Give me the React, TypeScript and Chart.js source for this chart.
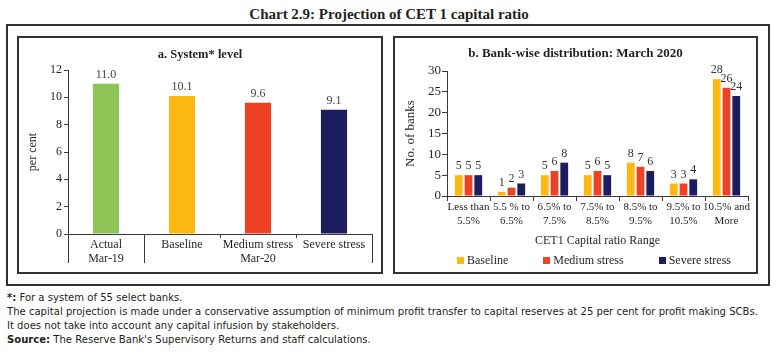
import React, { useEffect, useRef } from "react";
import { Chart, registerables } from "chart.js";

Chart.register(...registerables);

// ---------- data ----------
const systemCategories = ["Actual", "Baseline", "Medium stress", "Severe stress"];
const systemPeriods = ["Mar-19", "Mar-20"];
const systemPeriodSizes = [1, 3];
const systemValues = [11.0, 10.1, 9.6, 9.1];
const systemMax = 12;
const systemStep = 2;

const rangeCategories = [
  ["Less than", "5.5%"],
  ["5.5 % to", "6.5%"],
  ["6.5% to", "7.5%"],
  ["7.5% to", "8.5%"],
  ["8.5% to", "9.5%"],
  ["9.5% to", "10.5%"],
  ["10.5% and", "More"],
];
const seriesNames = ["Baseline", "Medium stress", "Severe stress"];
const baselineCounts = [5, 1, 5, 5, 8, 3, 28];
const mediumCounts = [5, 2, 6, 6, 7, 3, 26];
const severeCounts = [5, 3, 8, 5, 6, 4, 24];
const rangeMax = 30;
const rangeStep = 5;

// ---------- styles ----------
const GREEN = "#8CC455";
const YELLOW = "#FDB913";
const RED = "#EF4123";
const NAVY = "#1C1D5E";
const TEXT = "#231F20";
const AXIS = "#3a3a3a";
const SERIF = "'Liberation Serif', 'Times New Roman', serif";
const NARROW = "'DejaVu Sans Condensed', 'Liberation Sans Narrow', sans-serif";

const valueLabelPlugin = (fmt: (v: number) => string, color: string, size: number) => ({
  id: "valueLabels",
  afterDatasetsDraw(chart: any) {
    const ctx = chart.ctx;
    ctx.save();
    ctx.font = `${size}px ${SERIF}`;
    ctx.fillStyle = color;
    ctx.textAlign = "center";
    ctx.textBaseline = "bottom";
    chart.data.datasets.forEach((ds: any, di: number) => {
      const meta = chart.getDatasetMeta(di);
      meta.data.forEach((el: any, i: number) => {
        ctx.fillText(fmt(ds.data[i]), el.x, el.y - 3);
      });
    });
    ctx.restore();
  },
});

const periodGroupPlugin = {
  id: "periodGroups",
  afterDraw(chart: any) {
    const x = chart.scales.x;
    const n = chart.data.labels.length;
    const w = (x.right - x.left) / n;
    const bottom = chart.chartArea.bottom;
    const ctx = chart.ctx;
    ctx.save();
    ctx.strokeStyle = AXIS;
    ctx.lineWidth = 1;
    let start = 0;
    const bounds = [0];
    systemPeriodSizes.forEach((s) => {
      start += s;
      bounds.push(start);
    });
    bounds.forEach((b) => {
      const px = Math.round(x.left + b * w) + 0.5;
      ctx.beginPath();
      ctx.moveTo(px, bottom);
      ctx.lineTo(px, bottom + 29);
      ctx.stroke();
    });
    ctx.font = `12px ${SERIF}`;
    ctx.fillStyle = TEXT;
    ctx.textAlign = "center";
    ctx.textBaseline = "middle";
    systemPeriods.forEach((p, gi) => {
      const a = bounds[gi];
      const bnd = bounds[gi + 1];
      const cx = (x.getPixelForValue(a) + x.getPixelForValue(bnd - 1)) / 2;
      ctx.fillText(p, cx, bottom + 25);
    });
    ctx.restore();
  },
};

function SystemChart() {
  const ref = useRef<HTMLCanvasElement>(null);
  useEffect(() => {
    const chart = new Chart(ref.current as HTMLCanvasElement, {
      type: "bar",
      data: {
        labels: systemCategories,
        datasets: [
          {
            data: systemValues,
            backgroundColor: [GREEN, YELLOW, RED, NAVY],
            categoryPercentage: 0.8,
            barPercentage: 0.43,
          },
        ],
      },
      options: {
        responsive: false,
        animation: false,
        layout: { padding: { top: 32, right: 9, bottom: 0, left: 0 } },
        plugins: { legend: { display: false }, tooltip: { enabled: false } },
        scales: {
          x: {
            grid: { drawOnChartArea: false, drawTicks: true, tickLength: 4, color: AXIS, offset: true },
            border: { color: AXIS, width: 1 },
            ticks: { font: { family: SERIF, size: 12 }, color: TEXT, padding: 0, maxRotation: 0, autoSkip: false },
            afterFit: (s: any) => {
              s.height = 38;
            },
          },
          y: {
            min: 0,
            max: systemMax,
            ticks: { stepSize: systemStep, font: { family: SERIF, size: 12 }, color: TEXT, padding: 2 },
            grid: { drawOnChartArea: false, tickLength: 4, color: AXIS },
            border: { color: AXIS, width: 1 },
            title: {
              display: true,
              text: "per cent",
              font: { family: SERIF, size: 12 },
              color: TEXT,
              padding: { top: 7, bottom: 0 },
            },
            afterFit: (s: any) => {
              s.width = 49;
            },
          },
        },
      } as any,
      plugins: [valueLabelPlugin((v) => v.toFixed(1), "#444", 12), periodGroupPlugin],
    });
    return () => chart.destroy();
  }, []);
  return <canvas ref={ref} width={362} height={234} style={{ display: "block" }} />;
}

const seriesColors = [YELLOW, RED, NAVY];

function DistributionChart() {
  const ref = useRef<HTMLCanvasElement>(null);
  useEffect(() => {
    const series = [baselineCounts, mediumCounts, severeCounts];
    const chart = new Chart(ref.current as HTMLCanvasElement, {
      type: "bar",
      data: {
        labels: rangeCategories,
        datasets: series.map((d, i) => ({
          label: seriesNames[i],
          data: d,
          backgroundColor: seriesColors[i],
          categoryPercentage: 0.68,
          barPercentage: 0.8,
        })),
      },
      options: {
        responsive: false,
        animation: false,
        layout: { padding: { top: 33, right: 8, bottom: 24, left: 0 } },
        plugins: { legend: { display: false }, tooltip: { enabled: false } },
        scales: {
          x: {
            grid: { drawOnChartArea: false, drawTicks: true, tickLength: 5, color: AXIS, offset: true },
            border: { color: AXIS, width: 1 },
            ticks: { font: { family: SERIF, size: 11 }, color: TEXT, padding: 0, maxRotation: 0, autoSkip: false },
            title: {
              display: true,
              text: "CET1 Capital ratio Range",
              font: { family: SERIF, size: 12 },
              color: TEXT,
              padding: { top: 0, bottom: 0 },
            },
            afterFit: (s: any) => {
              s.height = 52;
            },
          },
          y: {
            min: 0,
            max: rangeMax,
            ticks: { stepSize: rangeStep, font: { family: SERIF, size: 13 }, color: TEXT, padding: 1 },
            grid: { drawOnChartArea: false, tickLength: 5, color: AXIS },
            border: { color: AXIS, width: 1 },
            title: {
              display: true,
              text: "No. of banks",
              font: { family: SERIF, size: 13 },
              color: TEXT,
              padding: { top: 8, bottom: 0 },
            },
            afterFit: (s: any) => {
              s.width = 52;
            },
          },
        },
      } as any,
      plugins: [valueLabelPlugin((v) => String(v), "#333", 12)],
    });
    return () => chart.destroy();
  }, []);
  return <canvas ref={ref} width={361} height={234} style={{ display: "block" }} />;
}

export default function App() {
  const abs = (s: any) => ({ position: "absolute" as const, ...s });
  return (
    <div style={abs({ left: 0, top: 0, width: 778, height: 355, background: "#fff", fontFamily: SERIF, color: TEXT })}>
      <div style={abs({ left: 0, top: 5, width: 778, textAlign: "center", fontWeight: "bold", fontSize: 15, lineHeight: "18px" })}>
        Chart 2.9: Projection of CET 1 capital ratio
      </div>
      <div style={abs({ left: 6, top: 24, width: 764, height: 262, border: "2px solid #333", boxSizing: "border-box" })} />
      <div style={abs({ left: 17, top: 36, width: 366, height: 238, border: "2px solid #333", boxSizing: "border-box" })} />
      <div style={abs({ left: 393, top: 36, width: 365, height: 238, border: "2px solid #333", boxSizing: "border-box" })} />
      <div style={abs({ left: 19, top: 38 })}>
        <SystemChart />
      </div>
      <div style={abs({ left: 395, top: 38 })}>
        <DistributionChart />
      </div>
      <div style={abs({ left: 17, top: 46, width: 366, textAlign: "center", fontWeight: "bold", fontSize: 12.5, lineHeight: "16px" })}>
        a. System* level
      </div>
      <div style={abs({ left: 393, top: 45, width: 365, textAlign: "center", fontWeight: "bold", fontSize: 13, lineHeight: "16px" })}>
        b. Bank-wise distribution: March 2020
      </div>
      <div style={abs({ left: 457, top: 252, display: "flex", gap: 35, fontSize: 12, lineHeight: "16px", whiteSpace: "nowrap" })}>
        {seriesNames.map((n, i) => (
          <div key={n} style={{ display: "flex", alignItems: "center" }}>
            <span style={{ display: "inline-block", width: 7, height: 7, background: seriesColors[i], marginRight: 3 }} />
            <span>{n}</span>
          </div>
        ))}
      </div>
      <div style={abs({ left: 7, top: 291, fontFamily: NARROW, fontSize: 11.2, lineHeight: "14px", whiteSpace: "nowrap", color: TEXT })}>
        <div><b>*:</b> For a system of 55 select banks.</div>
        <div>The capital projection is made under a conservative assumption of minimum profit transfer to capital reserves at 25 per cent for profit making SCBs.</div>
        <div>It does not take into account any capital infusion by stakeholders.</div>
        <div><b>Source:</b> The Reserve Bank's Supervisory Returns and staff calculations.</div>
      </div>
    </div>
  );
}
